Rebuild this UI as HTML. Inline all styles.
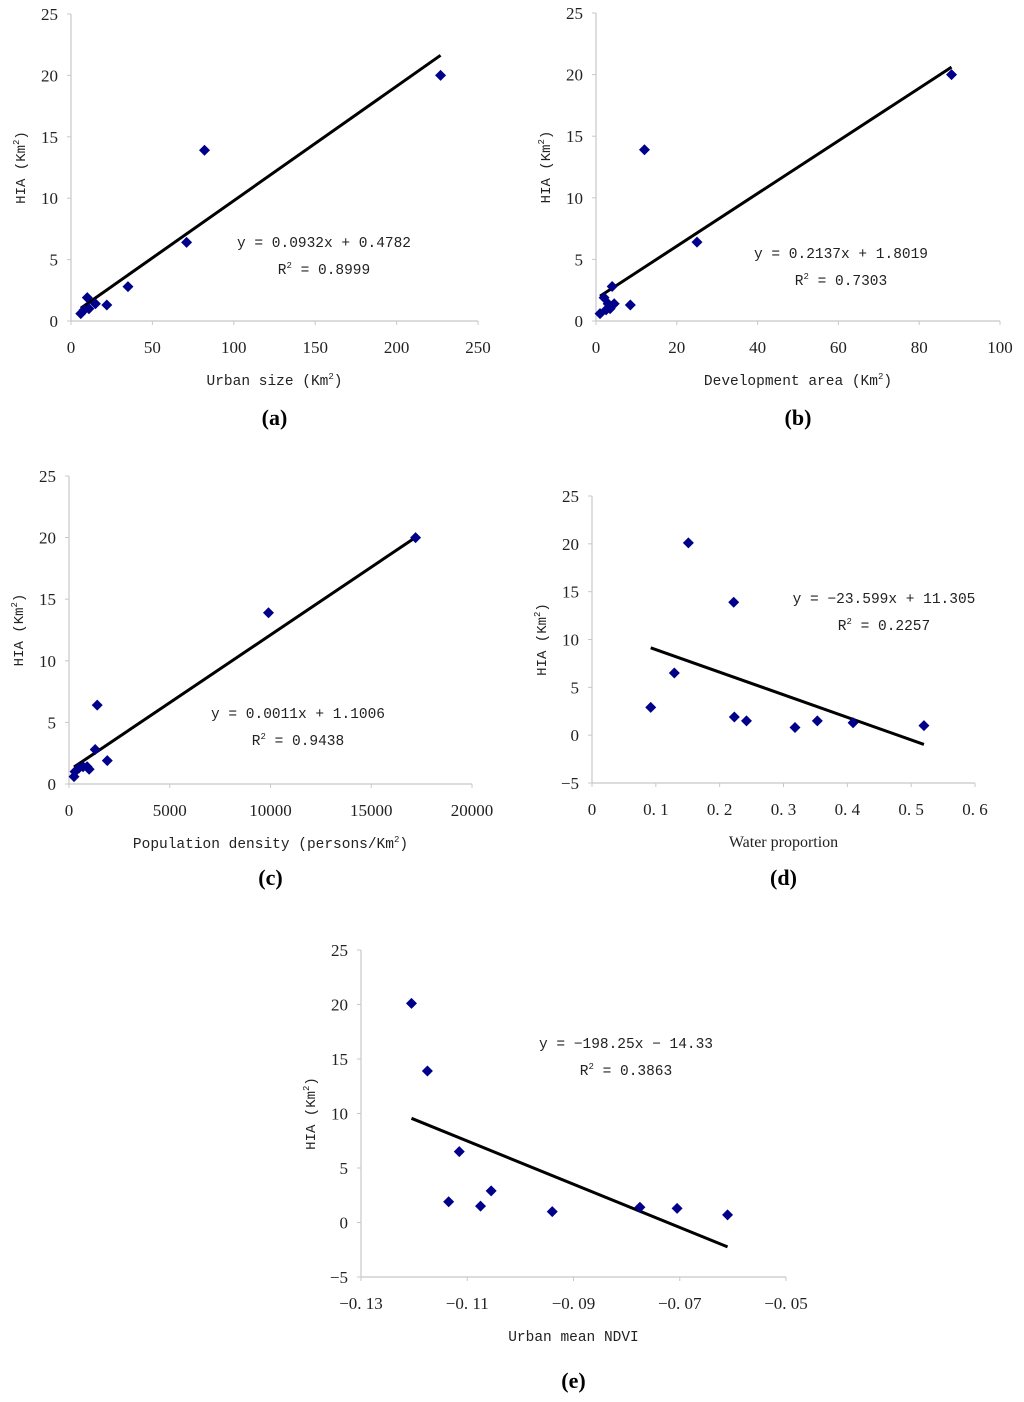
<!DOCTYPE html>
<html><head><meta charset="utf-8"><style>
body{margin:0;background:#fff;}
svg{display:block;font-family:"Liberation Serif","Noto Serif CJK SC",serif;}
</style></head><body>
<svg id="fig" width="1024" height="1402" viewBox="0 0 1024 1402" xmlns="http://www.w3.org/2000/svg"></svg>
<script>
// Panel (a)
const aX = [6, 8, 10, 11, 15, 22, 35, 71, 82, 227];
const aY = [0.6, 0.9, 1.9, 1.0, 1.4, 1.3, 2.8, 6.4, 13.9, 20.0];
const aXTicks = [0, 50, 100, 150, 200, 250];
const aYTicks = [0, 5, 10, 15, 20, 25];
const aFit = [0.0932, 0.4782];
// Panel (b)
const bX = [1, 2, 2.5, 3, 3.5, 4, 4.5, 8.5, 12, 25, 88];
const bY = [0.6, 1.9, 0.9, 1.4, 1.0, 2.8, 1.4, 1.3, 13.9, 6.4, 20.0];
const bXTicks = [0, 20, 40, 60, 80, 100];
const bYTicks = [0, 5, 10, 15, 20, 25];
const bFit = [0.2137, 1.8019];
// Panel (c)
const cX = [250, 300, 500, 700, 900, 1000, 1300, 1400, 1900, 9900, 17200];
const cY = [0.6, 1.0, 1.3, 1.4, 1.4, 1.2, 2.8, 6.4, 1.9, 13.9, 20.0];
const cXTicks = [0, 5000, 10000, 15000, 20000];
const cYTicks = [0, 5, 10, 15, 20, 25];
const cFit = [0.0011, 1.1006];
// Panel (d)
const dX = [0.092, 0.129, 0.151, 0.222, 0.223, 0.242, 0.318, 0.353, 0.409, 0.52];
const dY = [2.9, 6.5, 20.1, 13.9, 1.9, 1.5, 0.8, 1.5, 1.3, 1.0];
const dXTicks = [0, 0.1, 0.2, 0.3, 0.4, 0.5, 0.6];
const dYTicks = [-5, 0, 5, 10, 15, 20, 25];
const dFit = [-23.599, 11.305];
// Panel (e)
const eX = [-0.1205, -0.1175, -0.1115, -0.1135, -0.1075, -0.1055, -0.094, -0.0775, -0.0705, -0.061];
const eY = [20.1, 13.9, 6.5, 1.9, 1.5, 2.9, 1.0, 1.4, 1.3, 0.7];
const eXTicks = [-0.13, -0.11, -0.09, -0.07, -0.05];
const eYTicks = [-5, 0, 5, 10, 15, 20, 25];
const eFit = [-198.25, -14.33];

const NS = "http://www.w3.org/2000/svg";
const fig = document.getElementById('fig');
function mk(tag, attrs, parent, text){
  const e = document.createElementNS(NS, tag);
  for (const k in attrs) e.setAttribute(k, attrs[k]);
  if (text !== undefined) e.textContent = text;
  parent.appendChild(e); return e;
}
function fmt(v){ return String(v).replace('-', '\u2212').replace('.', '. '); }

function panel(id, box, xs, ys, xt, yt, fit, xlabel, xsup, eq, r2, eqPos, cap, capY, plainX){
  const g = mk('g', {}, fig);
  
  
  const [L, R, T, B] = box;
  const x0 = xt[0], x1 = xt[xt.length-1], y0 = yt[0], y1 = yt[yt.length-1];
  const sx = v => L + (v - x0) / (x1 - x0) * (R - L);
  const sy = v => B - (v - y0) / (y1 - y0) * (B - T);
  const ax = mk('path', {d:`M${L} ${T}V${B}H${R}`, stroke:'#c8c8c8', fill:'none', 'stroke-width':1.2}, g);
  
  
  yt.forEach(v => {
    mk('line', {x1:L-4, x2:L, y1:sy(v), y2:sy(v), stroke:'#c8c8c8'}, g);
    const t = mk('text', {x:L-13, y:sy(v)+6, 'text-anchor':'end', 'font-size':17, fill:'#222'}, g, fmt(v));
    
    
  });
  xt.forEach(v => {
    mk('line', {x1:sx(v), x2:sx(v), y1:B, y2:B+4, stroke:'#c8c8c8'}, g);
    const t = mk('text', {x:sx(v), y:B+32, 'text-anchor':'middle', 'font-size':17, fill:'#222'}, g, fmt(v));
    
    
  });
  const yc = (T + B) / 2, ytx = L - 46;
  const yl = mk('text', {x:ytx, y:yc, transform:`rotate(-90 ${ytx} ${yc})`, 'text-anchor':'middle', 'font-size':14, fill:'#222', 'font-family':'Liberation Mono, monospace'}, g);
  
  
  mk('tspan', {}, yl, 'HIA (Km');
  mk('tspan', {dy:-6, 'font-size':9}, yl, '2');
  mk('tspan', {dy:6}, yl, ')');
  const xl = mk('text', {x:(L+R)/2, y:B+64, 'text-anchor':'middle', 'font-size':plainX?16:14.5, fill:'#222', 'font-family':plainX?'Liberation Serif, serif':'Liberation Mono, monospace'}, g);
  
  
  mk('tspan', {}, xl, xlabel);
  if (xsup){ mk('tspan', {dy:-6, 'font-size':9}, xl, '2'); mk('tspan', {dy:6}, xl, ')'); }
  const fa = Math.min(...xs), fb = Math.max(...xs);
  const fl = mk('line', {x1:sx(fa), y1:sy(fit[0]*fa+fit[1]), x2:sx(fb), y2:sy(fit[0]*fb+fit[1]), stroke:'#000', 'stroke-width':3}, g);
  
  
  xs.forEach((v, i) => {
    const cx = sx(v), cy = sy(ys[i]);
    const p = mk('path', {d:`M${cx} ${cy-5.5}L${cx+5.5} ${cy}L${cx} ${cy+5.5}L${cx-5.5} ${cy}Z`, fill:'#00008b'}, g);
    
    
  });
  const e1 = mk('text', {x:eqPos[0], y:eqPos[1], 'text-anchor':'middle', 'font-size':14.5, fill:'#222', 'font-family':'Liberation Mono, monospace'}, g, eq);
  
  
  const e2 = mk('text', {x:eqPos[0], y:eqPos[1]+27, 'text-anchor':'middle', 'font-size':14.5, fill:'#222', 'font-family':'Liberation Mono, monospace'}, g);
  
  
  mk('tspan', {}, e2, 'R');
  mk('tspan', {dy:-6, 'font-size':9}, e2, '2');
  mk('tspan', {dy:6}, e2, ' = ' + r2);
  const c = mk('text', {x:(L+R)/2, y:capY, 'text-anchor':'middle', 'font-size':22, 'font-weight':'bold', fill:'#000'}, g, cap);
  
  
}

panel('a', [71, 478, 14, 321], aX, aY, aXTicks, aYTicks, aFit, 'Urban size (Km', true, 'y = 0.0932x + 0.4782', '0.8999', [324, 247], '(a)', 425);
panel('b', [596, 1000, 13, 321], bX, bY, bXTicks, bYTicks, bFit, 'Development area (Km', true, 'y = 0.2137x + 1.8019', '0.7303', [841, 258], '(b)', 425);
panel('c', [69, 472, 476, 784], cX, cY, cXTicks, cYTicks, cFit, 'Population density (persons/Km', true, 'y = 0.0011x + 1.1006', '0.9438', [298, 718], '(c)', 885);
panel('d', [592, 975, 496, 783], dX, dY, dXTicks, dYTicks, dFit, 'Water proportion', false, 'y = −23.599x + 11.305', '0.2257', [884, 603], '(d)', 885, true);
panel('e', [361, 786, 950, 1277], eX, eY, eXTicks, eYTicks, eFit, 'Urban mean NDVI', false, 'y = −198.25x − 14.33', '0.3863', [626, 1048], '(e)', 1388);
</script>
</body></html>
